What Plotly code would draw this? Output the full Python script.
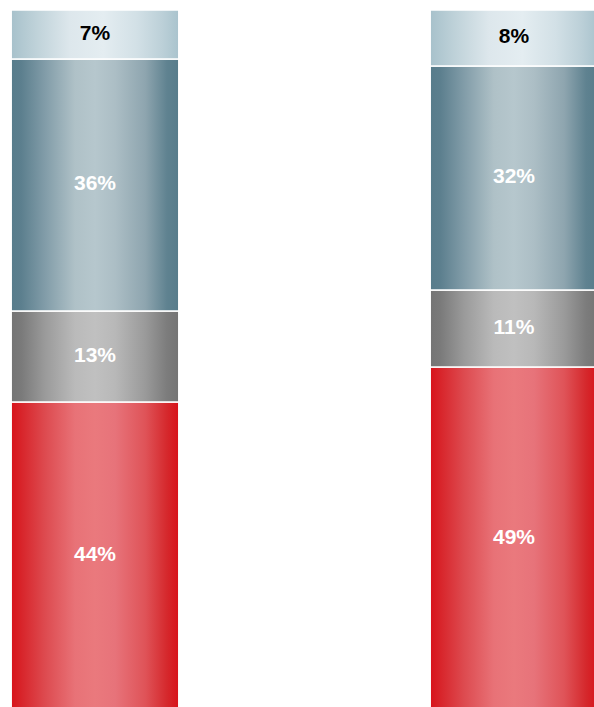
import plotly.graph_objects as go

categories = ["A", "B"]
values_red = [44, 49]
values_gray = [13, 11]
values_blue = [36, 32]
values_light = [7, 8]
labels_red = ["44%", "49%"]
labels_gray = ["13%", "11%"]
labels_blue = ["36%", "32%"]
labels_light = ["7%", "8%"]

series = [
    (values_red, labels_red,
     [[0, "#d8121a"], [0.06, "#d8242a"], [0.2, "#dd4a4f"], [0.38, "#e87277"],
      [0.5, "#ea797d"], [0.62, "#e7737a"], [0.8, "#df5358"], [0.93, "#d5282c"],
      [1, "#d8121a"]], "white"),
    (values_gray, labels_gray,
     [[0, "#747474"], [0.06, "#7a7a7a"], [0.2, "#9a9a9a"], [0.38, "#bababa"],
      [0.5, "#c0c0c0"], [0.62, "#b8b8b8"], [0.8, "#9a9a9a"], [0.93, "#7c7c7c"],
      [1, "#747474"]], "white"),
    (values_blue, labels_blue,
     [[0, "#577c8b"], [0.06, "#5c7f8e"], [0.2, "#819ca8"], [0.38, "#afc1c7"],
      [0.5, "#b6c7cd"], [0.62, "#acbec5"], [0.8, "#8ea5af"], [0.93, "#5f8290"],
      [1, "#577c8b"]], "white"),
    (values_light, labels_light,
     [[0, "#a7c1cb"], [0.15, "#bfd2d9"], [0.35, "#dde7ec"], [0.55, "#e4edf1"],
      [0.75, "#d2e0e6"], [0.9, "#bcd0d8"], [1, "#a9c3cd"]], "black"),
]

bar_width = 0.40
fig = go.Figure()
base = [0.0 for _ in categories]
for vals, labs, cscale, tcolor in series:
    for i, cat in enumerate(categories):
        x0 = i - bar_width / 2
        x1 = i + bar_width / 2
        y0 = base[i]
        y1 = base[i] + vals[i]
        fig.add_trace(go.Scatter(
            x=[x0, x1, x1, x0, x0], y=[y0, y0, y1, y1, y0],
            mode="lines", fill="toself",
            line=dict(color="white", width=1.5),
            fillgradient=dict(type="horizontal", colorscale=cscale),
            hoverinfo="skip", showlegend=False,
        ))
    mids = [base[i] + vals[i] / 2 for i in range(len(categories))]
    fig.add_trace(go.Scatter(
        x=list(range(len(categories))), y=mids, mode="text", text=labs,
        textfont=dict(family="Liberation Sans, Arial, sans-serif", size=21, color=tcolor),
        textposition="middle center", showlegend=False, hoverinfo="skip",
        texttemplate="<b>%{text}</b>",
    ))
    base = [base[i] + vals[i] for i in range(len(categories))]

fig.update_layout(
    width=594, height=707,
    margin=dict(l=0, r=0, t=10, b=0),
    paper_bgcolor="white", plot_bgcolor="white",
    xaxis=dict(range=[-0.2267, 1.1909], visible=False, fixedrange=True),
    yaxis=dict(range=[0.43, 100], visible=False, fixedrange=True),
    hovermode=False,
)
fig.write_html(
    "out.html",
    config={"displayModeBar": False, "staticPlot": True},
    post_script="document.body.style.margin='0';document.body.style.overflow='hidden';",
)
